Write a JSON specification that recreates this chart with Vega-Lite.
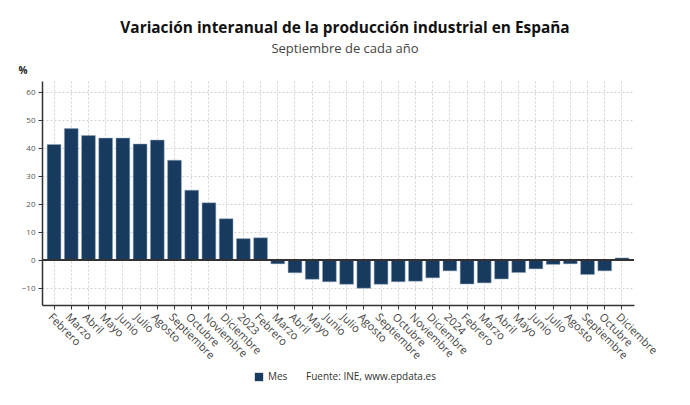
{
  "$schema": "https://vega.github.io/schema/vega-lite/v6.json",
  "width": 592,
  "height": 224,
  "autosize": {"type": "none"},
  "padding": {"left": 42, "top": 81, "right": 56, "bottom": 100},
  "background": "white",
  "title": {
    "text": "Variación interanual de la producción industrial en España",
    "subtitle": "Septiembre de cada año",
    "anchor": "middle",
    "dx": 7,
    "offset": 9,
    "font": "Open Sans",
    "fontSize": 15.4,
    "fontWeight": "bold",
    "color": "#111111",
    "subtitleFont": "Open Sans",
    "subtitleFontSize": 13,
    "subtitleColor": "#444444",
    "subtitlePadding": 7
  },
  "config": {
    "view": {"stroke": null},
    "font": "Open Sans"
  },
  "data": {
    "values": [
      {"periodo": "2022-02", "valor": 41.3},
      {"periodo": "2022-03", "valor": 47.0},
      {"periodo": "2022-04", "valor": 44.5},
      {"periodo": "2022-05", "valor": 43.6},
      {"periodo": "2022-06", "valor": 43.6},
      {"periodo": "2022-07", "valor": 41.5},
      {"periodo": "2022-08", "valor": 42.9},
      {"periodo": "2022-09", "valor": 35.7},
      {"periodo": "2022-10", "valor": 25.0},
      {"periodo": "2022-11", "valor": 20.5},
      {"periodo": "2022-12", "valor": 14.8},
      {"periodo": "2023-01", "valor": 7.7},
      {"periodo": "2023-02", "valor": 8.0},
      {"periodo": "2023-03", "valor": -1.3},
      {"periodo": "2023-04", "valor": -4.5},
      {"periodo": "2023-05", "valor": -6.8},
      {"periodo": "2023-06", "valor": -7.7},
      {"periodo": "2023-07", "valor": -8.6},
      {"periodo": "2023-08", "valor": -10.0},
      {"periodo": "2023-09", "valor": -8.6},
      {"periodo": "2023-10", "valor": -7.7},
      {"periodo": "2023-11", "valor": -7.5},
      {"periodo": "2023-12", "valor": -6.3},
      {"periodo": "2024-01", "valor": -3.8},
      {"periodo": "2024-02", "valor": -8.5},
      {"periodo": "2024-03", "valor": -8.1},
      {"periodo": "2024-04", "valor": -6.7},
      {"periodo": "2024-05", "valor": -4.4},
      {"periodo": "2024-06", "valor": -3.1},
      {"periodo": "2024-07", "valor": -1.5},
      {"periodo": "2024-08", "valor": -1.3},
      {"periodo": "2024-09", "valor": -5.1},
      {"periodo": "2024-10", "valor": -3.8},
      {"periodo": "2024-12", "valor": 0.8}
    ]
  },
  "encoding": {
    "y": {
      "field": "valor",
      "type": "quantitative",
      "scale": {"domain": [-16, 64], "nice": false, "zero": false},
      "axis": {
        "tickCount": 8,
        "labelOverlap": false,
        "labelBound": false,
        "title": "%",
        "titleAngle": 0,
        "titleX": -24,
        "titleY": -11,
        "titleAlign": "left",
        "titleBaseline": "middle",
        "titleFont": "Open Sans",
        "titleFontSize": 10,
        "titleFontWeight": "bold",
        "titleColor": "#222222",
        "labelFont": "Open Sans",
        "labelFontSize": 8,
        "labelColor": "#555555",
        "labelPadding": 3,
        "domainColor": "#333333",
        "domainWidth": 1.5,
        "tickColor": "#333333",
        "tickSize": 4,
        "grid": true,
        "gridColor": "#d4d4d4",
        "gridDash": [2, 2],
        "gridWidth": 1
      }
    }
  },
  "layer": [
    {
      "mark": {"type": "bar", "stroke": "#8da4bb", "strokeWidth": 0.5},
      "encoding": {
        "x": {
          "field": "periodo",
          "type": "ordinal",
          "sort": null,
          "scale": {"paddingInner": 0.2, "paddingOuter": 0.3},
          "axis": {
            "title": null,
            "labelExpr": "slice(datum.value,5)=='01' ? slice(datum.value,0,4) : ['Enero','Febrero','Marzo','Abril','Mayo','Junio','Julio','Agosto','Septiembre','Octubre','Noviembre','Diciembre'][toNumber(slice(datum.value,5))-1]",
            "labelAngle": 45,
            "labelAlign": "left",
            "labelBaseline": "top",
            "labelFont": "Open Sans",
            "labelFontSize": 11,
            "labelColor": "#444444",
            "labelPadding": 2,
            "labelOverlap": false,
            "domainColor": "#333333",
            "domainWidth": 1.5,
            "tickColor": "#333333",
            "tickSize": 4,
            "grid": true,
            "gridColor": "#d4d4d4",
            "gridDash": [2, 2],
            "gridWidth": 1
          }
        },
        "color": {
          "datum": "Mes",
          "type": "nominal",
          "scale": {"range": ["#173a5e"]},
          "legend": {
            "orient": "none",
            "legendX": 212,
            "legendY": 291,
            "direction": "horizontal",
            "title": "Fuente: INE, www.epdata.es",
            "titleOrient": "right",
            "titleFont": "Open Sans",
            "titleFontSize": 10,
            "titleFontWeight": "normal",
            "titleColor": "#333333",
            "titlePadding": 19,
            "labelFont": "Open Sans",
            "labelFontSize": 10,
            "labelColor": "#333333",
            "symbolType": "square",
            "symbolSize": 70,
            "symbolStrokeWidth": 0
          }
        }
      }
    },
    {
      "mark": {"type": "rule", "color": "#333333", "strokeWidth": 1.2},
      "encoding": {"y": {"datum": 0, "type": "quantitative"}}
    }
  ]
}
